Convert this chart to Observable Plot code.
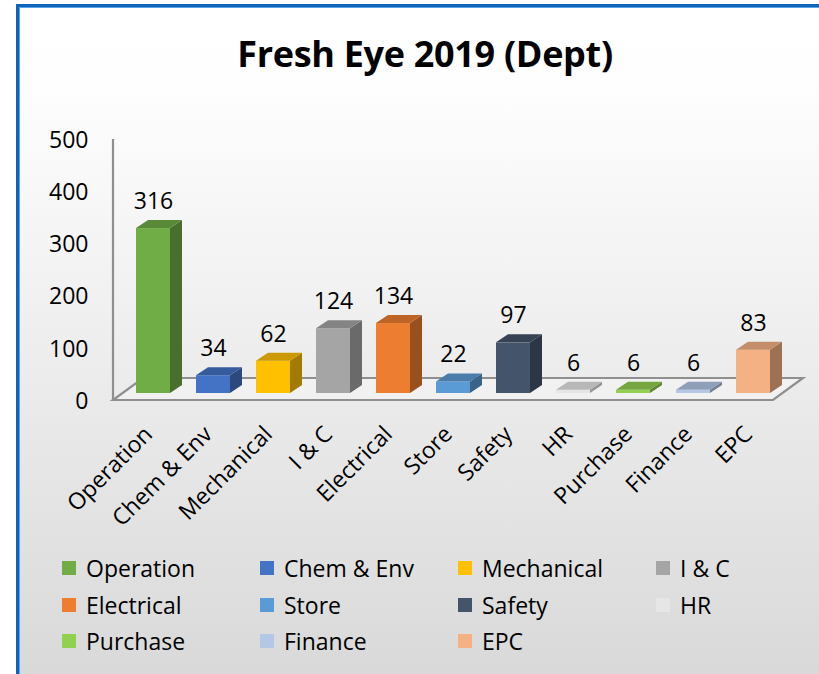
<!DOCTYPE html>
<html>
<head>
<meta charset="utf-8">
<script src="https://cdn.jsdelivr.net/npm/d3@7"></script>
<script src="https://cdn.jsdelivr.net/npm/@observablehq/plot@0.6"></script>
<style>
html, body { margin: 0; padding: 0; background: #fff; }
#wrap { position: relative; width: 819px; height: 674px; overflow: hidden; background: #fff; font-family: "Open Sans", sans-serif; color: #000; }
#area { position: absolute; left: 16px; top: 4px; width: 803px; height: 670px; box-sizing: border-box;
  border-left: 3px solid #0f63b8; border-top: 3px solid #0f63b8;
  box-shadow: inset 1px 1px 0 #5aa3e6;
  background: linear-gradient(to bottom, #ffffff 0%, #fefefe 12%, #d9d9d9 100%); }
#title { position: absolute; left: 0; top: 36px; width: 850px; text-align: center; font-weight: 700; font-size: 36px; line-height: 36px; letter-spacing: -0.3px; }
#chart { position: absolute; left: 0; top: 100px; }
#legend { position: absolute; left: 62px; top: 550px; display: grid; grid-template-columns: repeat(4, 198px); grid-auto-rows: 36.5px; }
.item { display: flex; align-items: center; font-size: 23px; white-space: nowrap; }
.sw { width: 14px; height: 14px; margin-right: 10px; flex: none; }
</style>
</head>
<body>
<div id="wrap">
  <div id="area"></div>
  <div id="title">Fresh Eye 2019 (Dept)</div>
  <div id="chart"></div>
  <div id="legend"></div>
</div>
<script>
// ---- data ----
const depts = ["Operation", "Chem & Env", "Mechanical", "I & C", "Electrical", "Store", "Safety", "HR", "Purchase", "Finance", "EPC"];
const counts = [316, 34, 62, 124, 134, 22, 97, 6, 6, 6, 83];
const yTicks = [0, 100, 200, 300, 400, 500];
const colors = ["#70AD47", "#4472C4", "#FFC000", "#A5A5A5", "#ED7D31", "#5B9BD5", "#44546A", "#E7E6E6", "#92D050", "#B4C7E7", "#F4B183"];

const data = depts.map((d, i) => ({dept: d, value: counts[i]}));

// 3D styling constants
const DEPTH = {dx: 12, dy: -8};
const FRONT = {dx: -10, dy: 7};
const BACK = {dx: 20, dy: -15};
const LINE = "#8f8f8f";

function shade(c, k) {
  const r = d3.rgb(c);
  return d3.rgb(r.r * k, r.g * k, r.b * k).formatHex();
}
const bw = s => (typeof s.bandwidth === "function" ? s.bandwidth() : s.bandwidth);

function floorAndWall(index, scales) {
  const [r0, r1] = scales.x.range();
  const y0 = scales.y(0), yTop = scales.y(scales.y.domain()[1]);
  const g = d3.create("svg:g");
  const fl = [[r0 + FRONT.dx, y0 + FRONT.dy], [r1 + FRONT.dx, y0 + FRONT.dy], [r1 + BACK.dx, y0 + BACK.dy], [r0 + BACK.dx, y0 + BACK.dy]];
  g.append("path").attr("d", "M" + fl.join("L") + "Z")
    .attr("fill", "#ffffff").attr("fill-opacity", 0.3)
    .attr("stroke", LINE).attr("stroke-width", 2.2).attr("stroke-linejoin", "miter");
  g.append("line")
    .attr("x1", r0 + FRONT.dx).attr("x2", r0 + FRONT.dx)
    .attr("y1", yTop + FRONT.dy).attr("y2", y0 + FRONT.dy)
    .attr("stroke", LINE).attr("stroke-width", 2.2);
  return g.node();
}

function barFaces(index, scales) {
  const g = d3.create("svg:g");
  const w = bw(scales.x);
  const y0 = scales.y(0);
  data.forEach((d, i) => {
    const x0 = scales.x(d.dept), yt = scales.y(d.value);
    const c = colors[i];
    g.append("path")
      .attr("d", `M${x0 + w},${yt}L${x0 + w + DEPTH.dx},${yt + DEPTH.dy}L${x0 + w + DEPTH.dx},${y0 + DEPTH.dy}L${x0 + w},${y0}Z`)
      .attr("fill", shade(c, 0.64));
    g.append("path")
      .attr("d", `M${x0},${yt}L${x0 + DEPTH.dx},${yt + DEPTH.dy}L${x0 + w + DEPTH.dx},${yt + DEPTH.dy}L${x0 + w},${yt}Z`)
      .attr("fill", shade(c, 0.8));
  });
  return g.node();
}

const chart = Plot.plot({
  width: 819,
  height: 440,
  marginLeft: 123,
  marginRight: 36,
  marginTop: 32,
  marginBottom: 147,
  style: {background: "transparent", overflow: "visible", fontFamily: "'Open Sans', sans-serif", color: "#000"},
  x: {domain: depts, paddingInner: 0.44, paddingOuter: 0.22, axis: null, label: null},
  y: {domain: [0, 500], axis: null, label: null},
  color: {domain: depts, range: colors},
  marks: [
    floorAndWall,
    Plot.barY(data, {x: "dept", y: "value", fill: "dept"}),
    barFaces,
    Plot.text(data, {x: "dept", y: "value", text: d => String(d.value), dy: -27, fontSize: 23, fill: "#000"}),
    Plot.axisY({ticks: yTicks, tickSize: 0, tickPadding: 35, dy: 8, fontSize: 23, label: null, tickFormat: d => String(d)}),
    Plot.axisX({tickRotate: -45, tickSize: 0, tickPadding: 37, dx: -5, fontSize: 23, label: null})
  ]
});
document.getElementById("chart").appendChild(chart);

// legend
const legend = d3.select("#legend");
depts.forEach((d, i) => {
  const it = legend.append("div").attr("class", "item");
  it.append("span").attr("class", "sw").style("background", colors[i]);
  it.append("span").text(d);
});
</script>
</body>
</html>
